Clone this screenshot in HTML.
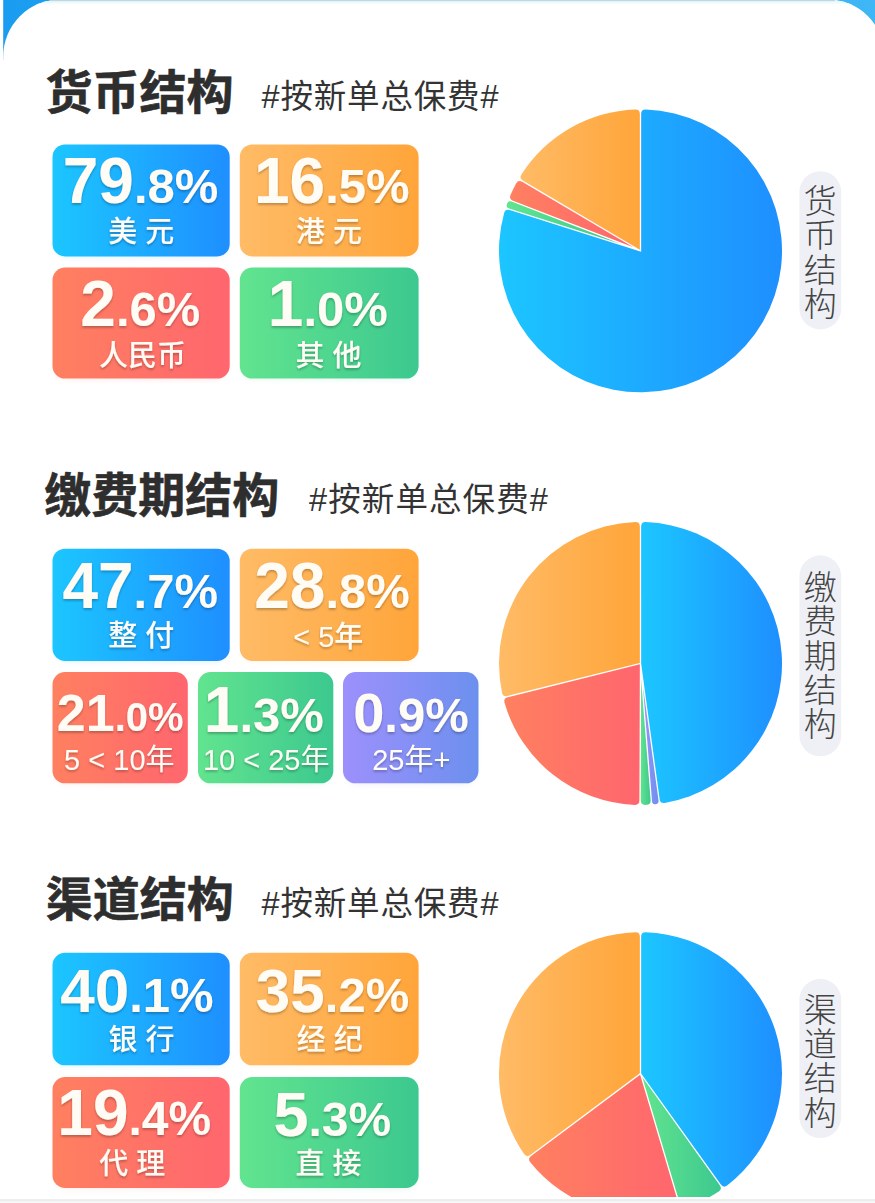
<!DOCTYPE html>
<html lang="zh"><head><meta charset="utf-8"><title>结构</title>
<style>
html,body{margin:0;padding:0;background:#fff}
body{width:875px;height:1203px;overflow:hidden;position:relative;font-family:"Liberation Sans",sans-serif}
svg{position:absolute;left:0;top:0;display:block}
svg text{font-family:"Liberation Sans","Noto Sans CJK SC",sans-serif}
.t{position:absolute;margin:0;padding:0;color:transparent;overflow:hidden;white-space:nowrap;font-weight:normal;font-family:"Liberation Sans",sans-serif}
.t.c{text-align:center}
h2.t{font-weight:bold}
</style></head><body>
<svg width="875" height="1203" viewBox="0 0 875 1203">
<defs><linearGradient id="blue" x1="0" y1="0" x2="1" y2="0"><stop offset="0" stop-color="#1cc6ff"/><stop offset="1" stop-color="#1e8fff"/></linearGradient><linearGradient id="orange" x1="0" y1="0" x2="1" y2="0"><stop offset="0" stop-color="#ffbb66"/><stop offset="1" stop-color="#ffa53a"/></linearGradient><linearGradient id="red" x1="0" y1="0" x2="1" y2="0"><stop offset="0" stop-color="#ff8060"/><stop offset="1" stop-color="#ff666e"/></linearGradient><linearGradient id="green" x1="0" y1="0" x2="1" y2="0"><stop offset="0" stop-color="#62e48f"/><stop offset="1" stop-color="#3cc88f"/></linearGradient><linearGradient id="purple" x1="0" y1="0" x2="1" y2="0"><stop offset="0" stop-color="#9d90fc"/><stop offset="1" stop-color="#6c90ee"/></linearGradient><linearGradient id="bg" x1="0" y1="0" x2="1" y2="0"><stop offset="0" stop-color="#1a9cf0"/><stop offset="1" stop-color="#3fb6f5"/></linearGradient><linearGradient id="topfade" x1="0" y1="0" x2="0" y2="1"><stop offset="0" stop-color="#e2f6fd"/><stop offset="1" stop-color="#ffffff"/></linearGradient><clipPath id="cardclip"><rect x="3.2" y="-0.5" width="881.5" height="1400" rx="57" ry="57"/></clipPath><filter id="ts" x="-10%" y="-20%" width="120%" height="150%"><feDropShadow dx="0" dy="1.8" stdDeviation="1.1" flood-color="#000" flood-opacity="0.26"/></filter><filter id="bs" x="-10%" y="-10%" width="120%" height="130%"><feGaussianBlur stdDeviation="3"/></filter><clipPath id="pc"><rect x="0" y="0" width="875" height="1197"/></clipPath><clipPath id="c2"><rect x="239.8" y="548.7" width="178.8" height="112.3"/></clipPath><clipPath id="c3"><rect x="239.8" y="952.8" width="178.8" height="112.5"/></clipPath></defs>
<rect x="0" y="0" width="875" height="1203" fill="#fff"/><rect x="3.2" y="0" width="875" height="60" fill="url(#bg)"/><rect x="3.2" y="-0.5" width="881.5" height="1400" rx="57" ry="57" fill="#fff"/><rect x="3.2" y="0.8" width="882.4" height="4.2" fill="url(#topfade)" clip-path="url(#cardclip)"/><rect x="50" y="0" width="785" height="1.1" fill="#bfd8e0"/><rect x="0" y="1199.5" width="875" height="1.2" fill="#dedede"/><rect x="0" y="1200.7" width="875" height="3" fill="#f6f6f6"/>
<text x="45.6" y="108.6" font-size="47" font-weight="bold" fill="#2e2e2e" stroke="#2e2e2e" stroke-width="0.6" stroke-linejoin="round">货币结构</text>
<text x="261.5" y="107.5" font-size="32.5" fill="#333" textLength="237" lengthAdjust="spacing">#按新单总保费#</text>
<rect x="55.5" y="148.4" width="171.2" height="109" rx="12" fill="url(#blue)" opacity="0.13" filter="url(#bs)"/><rect x="52.5" y="144.4" width="177.2" height="112" rx="12.5" fill="url(#blue)"/><rect x="242.8" y="148.4" width="172.8" height="109" rx="12" fill="url(#orange)" opacity="0.13" filter="url(#bs)"/><rect x="239.8" y="144.4" width="178.8" height="112" rx="12.5" fill="url(#orange)"/><rect x="55.5" y="271.6" width="171.2" height="108" rx="12" fill="url(#red)" opacity="0.13" filter="url(#bs)"/><rect x="52.5" y="267.6" width="177.2" height="111" rx="12.5" fill="url(#red)"/><rect x="242.8" y="271.6" width="172.8" height="108" rx="12" fill="url(#green)" opacity="0.13" filter="url(#bs)"/><rect x="239.8" y="267.6" width="178.8" height="111" rx="12.5" fill="url(#green)"/><path d="M641.15,251.69 L641.15,113.80 Q641.15,109.30 645.65,109.39 A141.5,141.5 0 1 1 504.13,213.03 Q505.40,208.71 509.69,210.07 Z" fill="url(#blue)"/><path d="M621.00,243.94 L509.09,208.51 Q505.80,207.47 506.89,204.20 A141.5,141.5 0 0 1 507.12,203.54 Q508.32,200.30 511.54,201.55 Z" fill="url(#green)"/><path d="M633.34,247.33 L512.98,200.72 Q508.79,199.09 510.50,194.93 A141.5,141.5 0 0 1 516.09,183.38 Q518.30,179.46 522.18,181.74 Z" fill="url(#red)"/><path d="M639.85,249.66 L522.84,180.62 Q518.96,178.34 521.33,174.51 A141.5,141.5 0 0 1 635.35,109.39 Q639.85,109.30 639.85,113.80 Z" fill="url(#orange)"/><rect x="799.4" y="171.2" width="41.8" height="158.2" rx="20.9" fill="#eef0f5"/>
<g font-size="33" font-weight="300" fill="#444" text-anchor="middle"><text x="820.3" y="213">货</text><text x="820.3" y="247.3">币</text><text x="820.3" y="281.6">结</text><text x="820.3" y="315.9">构</text></g>
<text x="44.3" y="512.3" font-size="47" font-weight="bold" fill="#2e2e2e" stroke="#2e2e2e" stroke-width="0.6" stroke-linejoin="round">缴费期结构</text>
<text x="309.1" y="511" font-size="32.5" fill="#333" textLength="238.7" lengthAdjust="spacing">#按新单总保费#</text>
<rect x="55.5" y="552.7" width="171.2" height="109.3" rx="12" fill="url(#blue)" opacity="0.13" filter="url(#bs)"/><rect x="52.5" y="548.7" width="177.2" height="112.3" rx="12.5" fill="url(#blue)"/><rect x="242.8" y="552.7" width="172.8" height="109.3" rx="12" fill="url(#orange)" opacity="0.13" filter="url(#bs)"/><rect x="239.8" y="548.7" width="178.8" height="112.3" rx="12.5" fill="url(#orange)"/><rect x="55.5" y="676" width="129.3" height="108.3" rx="12" fill="url(#red)" opacity="0.13" filter="url(#bs)"/><rect x="52.5" y="672" width="135.3" height="111.3" rx="12.5" fill="url(#red)"/><rect x="201" y="676" width="129.3" height="108.3" rx="12" fill="url(#green)" opacity="0.13" filter="url(#bs)"/><rect x="198" y="672" width="135.3" height="111.3" rx="12.5" fill="url(#green)"/><rect x="346" y="676" width="129.5" height="108.3" rx="12" fill="url(#purple)" opacity="0.13" filter="url(#bs)"/><rect x="343" y="672" width="135.5" height="111.3" rx="12.5" fill="url(#purple)"/><path d="M641.15,663.46 L641.15,526.50 Q641.15,522.00 645.65,522.09 A141.5,141.5 0 0 1 664.70,802.91 Q660.26,803.61 659.65,799.16 Z" fill="url(#blue)"/><path d="M642.95,686.29 L658.56,800.76 Q658.97,803.79 655.93,804.16 A141.5,141.5 0 0 1 655.33,804.22 Q652.28,804.51 652.04,801.46 Z" fill="url(#purple)"/><path d="M641.10,679.36 L650.63,800.13 Q650.99,804.61 646.50,804.87 A141.5,141.5 0 0 1 645.20,804.92 Q640.70,805.00 640.72,800.50 Z" fill="url(#green)"/><path d="M639.85,664.33 L639.42,800.50 Q639.40,805.00 634.91,804.89 A141.5,141.5 0 0 1 504.53,702.69 Q503.36,698.34 507.72,697.26 Z" fill="url(#red)"/><path d="M639.85,662.99 L507.41,695.99 Q503.04,697.08 502.04,692.69 A141.5,141.5 0 0 1 635.35,522.09 Q639.85,522.00 639.85,526.50 Z" fill="url(#orange)"/><rect x="799.4" y="555.3" width="41.8" height="201" rx="20.9" fill="#eef0f5"/>
<g font-size="33" font-weight="300" fill="#444" text-anchor="middle"><text x="820.3" y="598.9">缴</text><text x="820.3" y="633.2">费</text><text x="820.3" y="667.5">期</text><text x="820.3" y="701.8">结</text><text x="820.3" y="736.1">构</text></g>
<text x="45.8" y="916" font-size="47" font-weight="bold" fill="#2e2e2e" stroke="#2e2e2e" stroke-width="0.6" stroke-linejoin="round">渠道结构</text>
<text x="261.5" y="915" font-size="32.5" fill="#333" textLength="237" lengthAdjust="spacing">#按新单总保费#</text>
<rect x="55.5" y="956.8" width="171.2" height="109.5" rx="12" fill="url(#blue)" opacity="0.13" filter="url(#bs)"/><rect x="52.5" y="952.8" width="177.2" height="112.5" rx="12.5" fill="url(#blue)"/><rect x="242.8" y="956.8" width="172.8" height="109.5" rx="12" fill="url(#orange)" opacity="0.13" filter="url(#bs)"/><rect x="239.8" y="952.8" width="178.8" height="112.5" rx="12.5" fill="url(#orange)"/><rect x="55.5" y="1081" width="171.2" height="108" rx="12" fill="url(#red)" opacity="0.13" filter="url(#bs)"/><rect x="52.5" y="1077" width="177.2" height="111" rx="12.5" fill="url(#red)"/><rect x="242.8" y="1081" width="172.8" height="108" rx="12" fill="url(#green)" opacity="0.13" filter="url(#bs)"/><rect x="239.8" y="1077" width="178.8" height="111" rx="12.5" fill="url(#green)"/><g clip-path="url(#pc)"><path d="M641.15,1073.39 L641.15,936.60 Q641.15,932.10 645.65,932.19 A141.5,141.5 0 0 1 727.08,1185.52 Q723.48,1188.22 720.86,1184.56 Z" fill="url(#blue)"/><path d="M642.23,1077.12 L719.80,1185.32 Q722.42,1188.97 718.71,1191.52 A141.5,141.5 0 0 1 685.74,1207.67 Q681.45,1209.04 680.17,1204.73 Z" fill="url(#green)"/><path d="M640.14,1074.68 L678.92,1205.10 Q680.21,1209.41 675.87,1210.61 A141.5,141.5 0 0 1 530.23,1162.27 Q527.47,1158.72 531.07,1156.03 Z" fill="url(#red)"/><path d="M639.85,1073.27 L530.30,1154.99 Q526.69,1157.68 524.07,1154.02 A141.5,141.5 0 0 1 635.35,932.19 Q639.85,932.10 639.85,936.60 Z" fill="url(#orange)"/></g><rect x="799.4" y="978.8" width="41.8" height="159.2" rx="20.9" fill="#eef0f5"/>
<g font-size="33" font-weight="300" fill="#444" text-anchor="middle"><text x="820.3" y="1021.8">渠</text><text x="820.3" y="1056.1">道</text><text x="820.3" y="1090.4">结</text><text x="820.3" y="1124.7">构</text></g>
<g filter="url(#ts)" fill="#fffcf6">
<text x="140.5" y="203.1" text-anchor="middle" font-size="64" font-weight="bold">79<tspan font-size="49">.8%</tspan></text>
<text x="141.3" y="241.5" text-anchor="middle" font-size="29" font-weight="500">美 元</text>
<text x="331.8" y="203.1" text-anchor="middle" font-size="64" font-weight="bold">16<tspan font-size="49">.5%</tspan></text>
<text x="329.1" y="241.5" text-anchor="middle" font-size="29" font-weight="500">港 元</text>
<text x="140.3" y="325.9" text-anchor="middle" font-size="64" font-weight="bold">2<tspan font-size="49">.6%</tspan></text>
<text x="142.6" y="365.7" text-anchor="middle" font-size="29" font-weight="500">人民币</text>
<text x="327.8" y="326.2" text-anchor="middle" font-size="64" font-weight="bold">1<tspan font-size="49">.0%</tspan></text>
<text x="328.6" y="365.7" text-anchor="middle" font-size="29" font-weight="500">其 他</text>
<text x="140.2" y="608.1" text-anchor="middle" font-size="64" font-weight="bold">47<tspan font-size="49">.7%</tspan></text>
<text x="141.2" y="646.1" text-anchor="middle" font-size="29" font-weight="500">整 付</text>
<g clip-path="url(#c2)"><text x="254.2" y="608.1" font-size="64" font-weight="bold">28<tspan font-size="49">.8%</tspan></text></g>
<text x="328.3" y="646.5" text-anchor="middle" font-size="29" font-weight="500">&lt; 5年</text>
<text x="120.2" y="730.6" text-anchor="middle" font-size="52" font-weight="bold">21<tspan font-size="40">.0%</tspan></text>
<text x="119.3" y="770" text-anchor="middle" font-size="29">5 &lt; 10年</text>
<text x="263.8" y="731.6" text-anchor="middle" font-size="64" font-weight="bold">1<tspan font-size="49">.3%</tspan></text>
<text x="266.2" y="770" text-anchor="middle" font-size="29">10 &lt; 25年</text>
<text x="411" y="731.6" text-anchor="middle" font-size="56" font-weight="bold">0<tspan font-size="49">.9%</tspan></text>
<text x="411.3" y="770" text-anchor="middle" font-size="29">25年+</text>
<text x="136.9" y="1012" text-anchor="middle" font-size="62" font-weight="bold">40<tspan font-size="49">.1%</tspan></text>
<text x="141.5" y="1050.1" text-anchor="middle" font-size="29" font-weight="500">银 行</text>
<g clip-path="url(#c3)"><text x="255.8" y="1012" font-size="62" font-weight="bold">35<tspan font-size="49">.2%</tspan></text></g>
<text x="329.7" y="1050.1" text-anchor="middle" font-size="29" font-weight="500">经 纪</text>
<text x="134.3" y="1135.4" text-anchor="middle" font-size="64" font-weight="bold">19<tspan font-size="48">.4%</tspan></text>
<text x="132.3" y="1173.9" text-anchor="middle" font-size="29" font-weight="500">代 理</text>
<text x="332.3" y="1135.6" text-anchor="middle" font-size="63" font-weight="bold">5<tspan font-size="48">.3%</tspan></text>
<text x="328.6" y="1173.9" text-anchor="middle" font-size="29" font-weight="500">直 接</text>
</g>
</svg>
<h2 class="t" style="left:46px;top:66px;width:208px;height:50px;font-size:47px;line-height:50px">货币结构</h2><div class="t " style="left:264px;top:74px;width:240px;height:40px;font-size:32px;line-height:40px">#按新单总保费#</div><h2 class="t" style="left:46px;top:469px;width:255px;height:50px;font-size:47px;line-height:50px">缴费期结构</h2><div class="t " style="left:311px;top:477px;width:240px;height:40px;font-size:32px;line-height:40px">#按新单总保费#</div><h2 class="t" style="left:46px;top:873px;width:208px;height:50px;font-size:47px;line-height:50px">渠道结构</h2><div class="t " style="left:264px;top:881px;width:240px;height:40px;font-size:32px;line-height:40px">#按新单总保费#</div><div class="t c" style="left:52.5px;top:144.4px;width:177px;height:112px"><b style="font-size:56px;line-height:64px;display:block">79.8%</b><span style="font-size:28px;line-height:34px;display:block">美 元</span></div><div class="t c" style="left:239.8px;top:144.4px;width:179px;height:112px"><b style="font-size:56px;line-height:64px;display:block">16.5%</b><span style="font-size:28px;line-height:34px;display:block">港 元</span></div><div class="t c" style="left:52.5px;top:267.6px;width:177px;height:111px"><b style="font-size:56px;line-height:64px;display:block">2.6%</b><span style="font-size:28px;line-height:34px;display:block">人民币</span></div><div class="t c" style="left:239.8px;top:267.6px;width:179px;height:111px"><b style="font-size:56px;line-height:64px;display:block">1.0%</b><span style="font-size:28px;line-height:34px;display:block">其 他</span></div><div class="t c" style="left:52.5px;top:548.7px;width:177px;height:112px"><b style="font-size:56px;line-height:64px;display:block">47.7%</b><span style="font-size:28px;line-height:34px;display:block">整 付</span></div><div class="t c" style="left:239.8px;top:548.7px;width:179px;height:112px"><b style="font-size:56px;line-height:64px;display:block">28.8%</b><span style="font-size:28px;line-height:34px;display:block">&lt; 5年</span></div><div class="t c" style="left:52.5px;top:672px;width:135px;height:111px"><b style="font-size:56px;line-height:64px;display:block">21.0%</b><span style="font-size:28px;line-height:34px;display:block">5 &lt; 10年</span></div><div class="t c" style="left:198px;top:672px;width:135px;height:111px"><b style="font-size:56px;line-height:64px;display:block">1.3%</b><span style="font-size:28px;line-height:34px;display:block">10 &lt; 25年</span></div><div class="t c" style="left:343px;top:672px;width:135px;height:111px"><b style="font-size:56px;line-height:64px;display:block">0.9%</b><span style="font-size:28px;line-height:34px;display:block">25年+</span></div><div class="t c" style="left:52.5px;top:952.8px;width:177px;height:112px"><b style="font-size:56px;line-height:64px;display:block">40.1%</b><span style="font-size:28px;line-height:34px;display:block">银 行</span></div><div class="t c" style="left:239.8px;top:952.8px;width:179px;height:112px"><b style="font-size:56px;line-height:64px;display:block">35.2%</b><span style="font-size:28px;line-height:34px;display:block">经 纪</span></div><div class="t c" style="left:52.5px;top:1077px;width:177px;height:111px"><b style="font-size:56px;line-height:64px;display:block">19.4%</b><span style="font-size:28px;line-height:34px;display:block">代 理</span></div><div class="t c" style="left:239.8px;top:1077px;width:179px;height:111px"><b style="font-size:56px;line-height:64px;display:block">5.3%</b><span style="font-size:28px;line-height:34px;display:block">直 接</span></div><div class="t c v" style="left:800px;top:171px;width:42px;height:158px;font-size:30px;line-height:34px">货<br>币<br>结<br>构</div><div class="t c v" style="left:800px;top:555px;width:42px;height:201px;font-size:30px;line-height:34px">缴<br>费<br>期<br>结<br>构</div><div class="t c v" style="left:800px;top:979px;width:42px;height:159px;font-size:30px;line-height:34px">渠<br>道<br>结<br>构</div>
</body></html>
